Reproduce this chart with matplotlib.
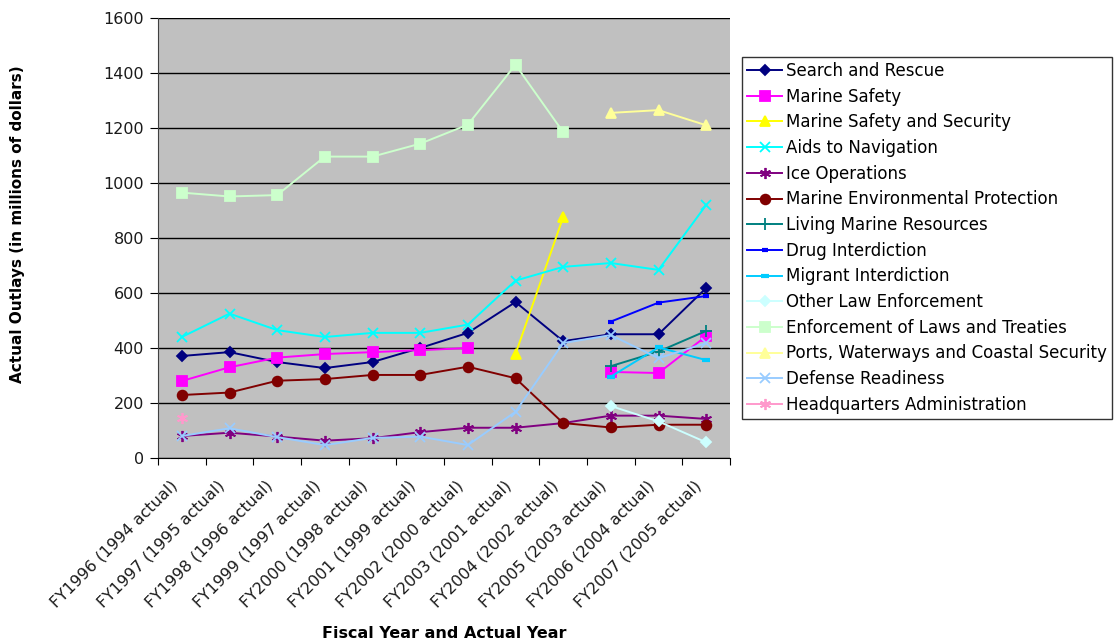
import matplotlib.pyplot as plt
import matplotlib.transforms as mtransforms
import numpy as np

nan = np.nan

years = ['FY1996 (1994 actual)', 'FY1997 (1995 actual)', 'FY1998 (1996 actual)',
         'FY1999 (1997 actual)', 'FY2000 (1998 actual)', 'FY2001 (1999 actual)',
         'FY2002 (2000 actual)', 'FY2003 (2001 actual)', 'FY2004 (2002 actual)',
         'FY2005 (2003 actual)', 'FY2006 (2004 actual)', 'FY2007 (2005 actual)']

search_rescue = [371, 385, 349, 327, 349, 400, 455, 567, 425, 450, 450, 618]
marine_safety = [280, 330, 365, 378, 385, 392, 400, nan, nan, 313, 309, 443]
marine_safety_security = [nan, nan, nan, nan, nan, nan, nan, 378, 876, nan, nan, nan]
aids_navigation = [440, 525, 465, 440, 455, 455, 485, 645, 695, 709, 684, 920]
ice_operations = [80, 92, 78, 63, 72, 94, 110, 110, 127, 154, 154, 142]
marine_env = [229, 238, 281, 287, 302, 302, 332, 290, 127, 111, 121, 121]
living_marine = [nan] * 9 + [334, 387, 462]
drug_interdiction = [nan] * 9 + [496, 565, 589]
migrant_interdiction = [nan] * 9 + [296, 402, 356]
other_law = [nan] * 9 + [189, 133, 57]
enforcement_laws = [965, 951, 956, 1096, 1096, 1143, 1212, 1430, 1185, nan, nan, nan]
ports_waterways = [nan] * 9 + [1255, 1265, 1210]
defense_readiness = [80, 108, 76, 47, 73, 78, 47, 168, 418, 447, 363, 418]
hq_admin = [145] + [nan] * 11

# (label, values, colour, marker, marker size)
series = [
    ('Search and Rescue', search_rescue, '#000080', 'D', 5.5),
    ('Marine Safety', marine_safety, '#FF00FF', 's', 6.5),
    ('Marine Safety and Security', marine_safety_security, '#FFFF00', '^', 7),
    ('Aids to Navigation', aids_navigation, '#00FFFF', 'x', 7),
    ('Ice Operations', ice_operations, '#800080', (6, 2, 0), 8),
    ('Marine Environmental Protection', marine_env, '#800000', 'o', 7),
    ('Living Marine Resources', living_marine, '#008080', '+', 8),
    ('Drug Interdiction', drug_interdiction, '#0000FF', '_', 4),
    ('Migrant Interdiction', migrant_interdiction, '#00CCFF', '_', 6),
    ('Other Law Enforcement', other_law, '#CCFFFF', 'D', 5.5),
    ('Enforcement of Laws and Treaties', enforcement_laws, '#CCFFCC', 's', 6.5),
    ('Ports, Waterways and Coastal Security', ports_waterways, '#FFFF99', '^', 7),
    ('Defense Readiness', defense_readiness, '#99CCFF', 'x', 7),
    ('Headquarters Administration', hq_admin, '#FF99CC', (6, 2, 0), 8),
]

plt.rcParams['font.family'] = 'DejaVu Sans'

fig = plt.figure(figsize=(11.14, 6.43), dpi=100)
ax = fig.add_axes([158 / 1114, 1 - 458 / 643, 572 / 1114, 440 / 643])
ax.set_facecolor('#C0C0C0')

x = np.arange(len(years))
for label, vals, color, marker, ms in series:
    mew = 3 if marker == '_' else 1.3
    ax.plot(x, vals, color=color, marker=marker, markersize=ms, linewidth=1.4,
            markeredgecolor=color, markerfacecolor=color, markeredgewidth=mew,
            label=label)

ax.set_xlim(-0.5, len(years) - 0.5)
ax.set_ylim(0, 1600)
ax.set_yticks(np.arange(0, 1601, 200))
ax.yaxis.grid(True, color='black', linewidth=1)
ax.set_axisbelow(True)

# ticks on category boundaries, labels at category centres
ax.set_xticks(np.arange(-0.5, len(years) + 0.5, 1))
ax.set_xticklabels([])
ax.set_xticks(x, minor=True)
ax.set_xticklabels(years, minor=True, rotation=45, ha='right', va='center',
                   rotation_mode='anchor', fontsize=11.5, color='#1a1a1a')
ax.tick_params(axis='x', which='minor', length=0, pad=18)
ax.tick_params(axis='x', which='major', length=5, direction='out')
ax.tick_params(axis='y', length=6, pad=4, labelsize=11.5, labelcolor='#1a1a1a')

# nudge the slanted labels a little to the left
shift = mtransforms.ScaledTranslation(-7 / 100, 0, fig.dpi_scale_trans)
for lbl in ax.get_xticklabels(minor=True):
    lbl.set_transform(lbl.get_transform() + shift)

for side in ['top', 'right']:
    ax.spines[side].set_visible(False)
ax.spines['left'].set_color('#404040')
ax.spines['bottom'].set_color('black')

fig.text(18 / 1114, 1 - 224 / 643, 'Actual Outlays (in millions of dollars)',
         fontweight='bold', fontsize=11, rotation=90, ha='center', va='center')
fig.text(444 / 1114, 1 - 634 / 643, 'Fiscal Year and Actual Year',
         fontweight='bold', fontsize=11.5, ha='center', va='center')

leg = fig.legend(loc='upper left', bbox_to_anchor=(742 / 1114, 1 - 57 / 643),
                 fontsize=12, frameon=True, fancybox=False, edgecolor='black',
                 handlelength=2.1, handletextpad=0.25, labelspacing=0.46,
                 borderpad=0.3, borderaxespad=0)
leg.get_frame().set_linewidth(1)

fig.savefig('out.png', dpi=100)
